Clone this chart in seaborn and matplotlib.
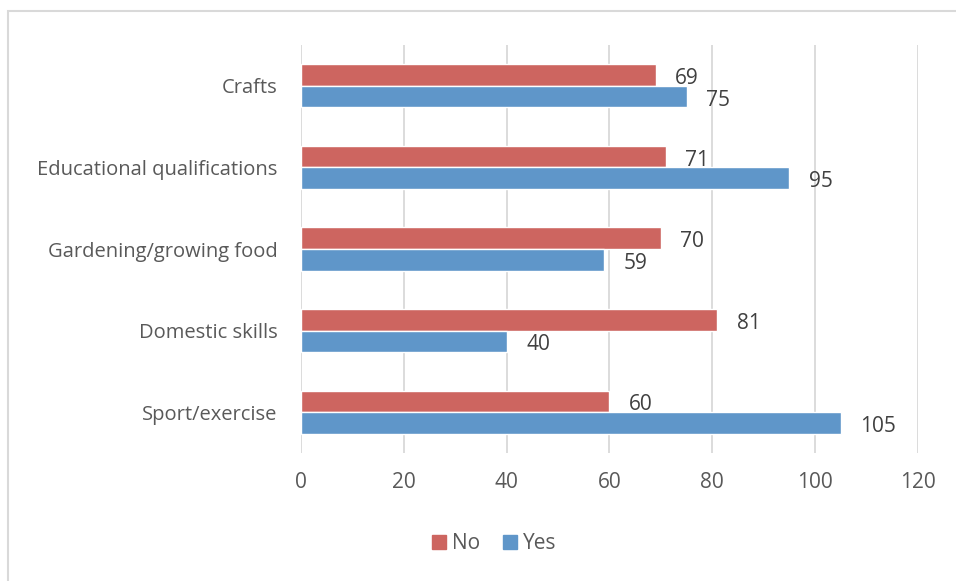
import matplotlib
matplotlib.use("Agg")
import matplotlib.pyplot as plt
import matplotlib.patches as mpatches
import pandas as pd
import seaborn as sns

# ---------------------------------------------------------------------------
# Data
# ---------------------------------------------------------------------------
categories = [
    "Crafts",
    "Educational qualifications",
    "Gardening/growing food",
    "Domestic skills",
    "Sport/exercise",
]
no_vals = [69, 71, 70, 81, 60]
yes_vals = [75, 95, 59, 40, 105]
x_ticks = [0, 20, 40, 60, 80, 100, 120]

COLORS = {"No": "#CD6560", "Yes": "#5F96C9"}
TEXT = "#595959"
GRID = "#D9D9D9"

sns.set_theme(style="white")
plt.rcParams["font.family"] = ["Open Sans", "DejaVu Sans"]

df = pd.DataFrame({
    "category": categories * 2,
    "value": no_vals + yes_vals,
    "series": ["No"] * len(categories) + ["Yes"] * len(categories),
})

fig = plt.figure(figsize=(9.56, 5.81), dpi=100)
ax = fig.add_axes([0.315, 0.2203, 0.645, 0.7022])

sns.barplot(
    data=df, y="category", x="value", hue="series", order=categories,
    hue_order=["No", "Yes"], palette=COLORS, orient="h", width=0.53,
    saturation=1, legend=False, ax=ax,
)

# value labels sit a touch below the bar centre, like the original
for cont in ax.containers:
    labels = ax.bar_label(cont, padding=14, fontsize=15, color="#404040")
    for t in labels:
        t.xyann = (14, -2.5)

ax.set_xlim(0, 120)
ax.set_xticks(x_ticks)
ax.set_ylim(4.5, -0.5)
ax.set_xlabel("")
ax.set_ylabel("")
ax.tick_params(axis="x", labelsize=15, labelcolor=TEXT, length=0, pad=14)
ax.tick_params(axis="y", labelsize=14.5, labelcolor=TEXT, length=0, pad=17)
ax.grid(axis="x", color=GRID, lw=1.3)
ax.set_axisbelow(True)
for s in ax.spines.values():
    s.set_visible(False)

handles = [mpatches.Patch(color=COLORS[k], label=k) for k in ["No", "Yes"]]
fig.legend(handles=handles, loc="center", bbox_to_anchor=(0.517, 0.064),
           ncol=2, frameon=False, fontsize=15, handlelength=0.65,
           handleheight=0.65, handletextpad=0.3, columnspacing=1.1,
           labelcolor=TEXT)

# light frame around chart (top and left edges visible)
fig.patches.append(mpatches.Rectangle(
    (0.0084, -0.1), 1.2, 1.081, transform=fig.transFigure,
    fill=False, edgecolor=GRID, lw=1.5))

fig.savefig("out.png", dpi=100)
